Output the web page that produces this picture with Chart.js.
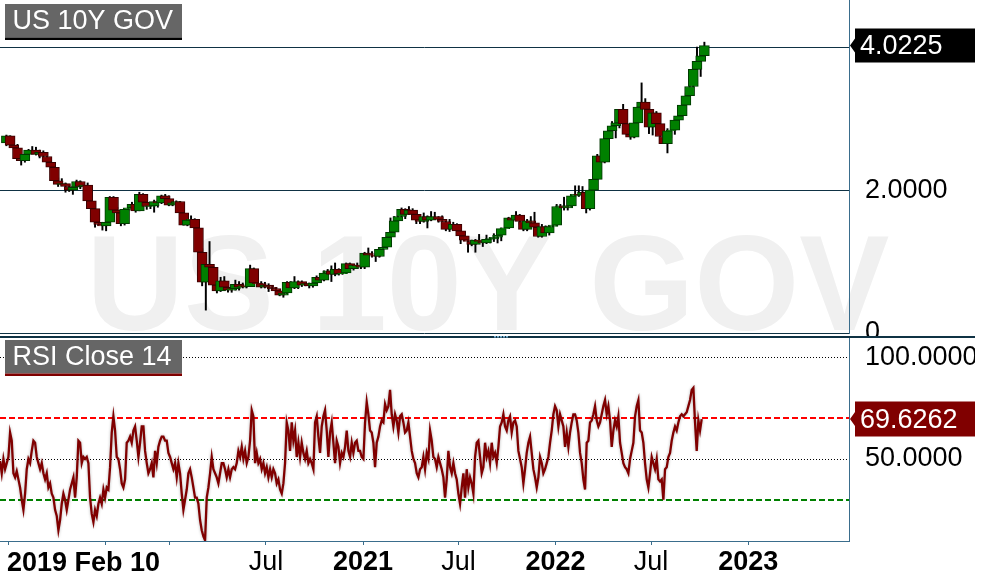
<!DOCTYPE html>
<html>
<head>
<meta charset="utf-8">
<script src="https://cdn.jsdelivr.net/npm/chart.js@4.4.0/dist/chart.umd.min.js"></script>
<style>
  body { margin: 0; background: #fff; width: 995px; height: 584px; overflow: hidden; position: relative; }
  #top { position: absolute; left: 0; top: 0; }
  #bot { position: absolute; left: 0; top: 336px; }
</style>
</head>
<body>
<canvas id="top" width="975" height="336"></canvas>
<canvas id="bot" width="975" height="248"></canvas>
<script>
const title = "US 10Y GOV";
const rsiTitle = "RSI Close 14";
const startLabel = "2019 Feb 10";

// weekly candles, first week starts Monday 2019-02-25
const candleStart = Date.UTC(2019, 1, 25);

const opens = [
  2.66,2.76,2.63,2.59,2.44,2.41,2.50,2.56,2.56,2.50,
  2.53,2.47,2.39,2.32,2.13,2.08,2.09,2.05,2.00,2.04,
  2.12,2.05,2.07,1.85,1.74,1.55,1.52,1.50,1.55,1.90,
  1.72,1.68,1.53,1.73,1.75,1.80,1.71,1.94,1.83,1.77,
  1.78,1.84,1.82,1.92,
  1.88,1.79,1.82,1.84,1.68,1.51,1.58,1.59,1.47,1.13,
  0.71,0.96,0.92,0.67,0.59,0.73,0.64,0.60,0.62,0.68,
  0.64,0.66,0.65,0.90,0.70,0.69,0.64,0.67,0.64,0.62,
  0.59,0.53,0.56,0.71,0.63,0.72,0.72,0.67,0.69,0.66,
  0.70,0.78,0.74,0.84,0.87,0.82,0.89,0.83,0.84,0.97,
  0.90,0.95,
  0.94,0.92,1.12,1.09,1.09,1.07,1.17,1.20,1.34,1.41,
  1.57,1.63,1.73,1.66,1.72,1.66,1.58,1.56,1.63,1.58,
  1.63,1.63,1.59,1.56,1.45,1.45,1.52,1.43,1.36,1.30,
  1.28,1.24,1.30,1.28,1.26,1.31,1.32,1.34,1.37,1.46,
  1.47,1.61,1.58,1.65,1.56,1.45,1.57,1.54,1.48,1.35,
  1.49,1.40,1.49,
  1.51,1.77,1.78,1.75,1.78,1.92,1.94,1.93,1.97,1.74,
  2.00,2.15,2.48,2.39,2.72,2.83,2.90,2.94,3.13,2.93,
  2.78,2.74,2.94,3.16,3.23,3.13,2.88,3.08,2.93,2.75,
  2.65,2.83,2.84,2.98,3.04,3.19,3.32,3.45,3.69,3.80,
  3.88
];
const highs = [
  2.77,2.76,2.66,2.64,2.46,2.52,2.57,2.61,2.60,2.56,
  2.55,2.48,2.43,2.34,2.17,2.16,2.10,2.07,2.05,2.14,
  2.13,2.09,2.10,1.87,1.75,1.63,1.55,1.59,1.91,1.91,
  1.76,1.69,1.74,1.79,1.83,1.85,1.97,1.95,1.84,1.79,
  1.86,1.86,1.93,1.94,
  1.92,1.87,1.85,1.84,1.68,1.67,1.64,1.60,1.47,1.18,
  0.99,1.28,0.93,0.74,0.78,0.79,0.66,0.67,0.74,0.72,
  0.70,0.72,0.95,0.91,0.77,0.72,0.71,0.69,0.66,0.64,
  0.61,0.58,0.72,0.72,0.79,0.73,0.73,0.71,0.70,0.71,
  0.80,0.79,0.87,0.89,0.94,0.98,0.90,0.89,0.98,0.98,
  0.96,0.98,
  0.95,1.13,1.19,1.14,1.11,1.19,1.20,1.36,1.61,1.63,
  1.64,1.75,1.74,1.77,1.74,1.70,1.63,1.68,1.64,1.70,
  1.69,1.63,1.64,1.57,1.59,1.55,1.53,1.44,1.42,1.31,
  1.30,1.31,1.38,1.30,1.37,1.33,1.39,1.38,1.47,1.56,
  1.62,1.63,1.70,1.66,1.62,1.59,1.63,1.69,1.51,1.52,
  1.50,1.50,1.56,
  1.80,1.80,1.90,1.87,1.93,2.06,2.06,2.05,1.99,2.02,
  2.24,2.50,2.56,2.73,2.85,2.96,2.98,3.13,3.20,3.07,
  2.86,2.96,3.17,3.50,3.28,3.19,3.10,3.10,3.07,2.86,
  2.86,2.88,3.00,3.10,3.26,3.36,3.49,3.71,4.00,3.90,
  4.07
];
const lows = [
  2.62,2.61,2.57,2.43,2.35,2.39,2.46,2.53,2.49,2.45,
  2.40,2.36,2.30,2.12,2.05,2.06,1.97,1.98,1.94,2.02,
  2.02,2.03,1.84,1.65,1.48,1.51,1.44,1.43,1.55,1.70,
  1.64,1.50,1.51,1.71,1.74,1.69,1.71,1.81,1.73,1.74,
  1.69,1.76,1.81,1.87,
  1.78,1.78,1.79,1.67,1.51,1.50,1.56,1.46,1.11,0.66,
  0.32,0.85,0.67,0.56,0.58,0.60,0.57,0.57,0.60,0.60,
  0.63,0.63,0.65,0.66,0.68,0.63,0.63,0.58,0.60,0.57,
  0.52,0.50,0.55,0.62,0.62,0.62,0.65,0.66,0.63,0.64,
  0.69,0.71,0.73,0.76,0.72,0.80,0.81,0.82,0.83,0.88,
  0.88,0.91,
  0.90,0.90,1.06,1.06,1.00,1.06,1.12,1.20,1.33,1.39,
  1.51,1.60,1.60,1.66,1.62,1.53,1.53,1.55,1.47,1.57,
  1.60,1.55,1.56,1.43,1.42,1.44,1.42,1.25,1.29,1.13,
  1.22,1.13,1.27,1.21,1.25,1.26,1.28,1.26,1.29,1.45,
  1.47,1.50,1.57,1.52,1.43,1.43,1.53,1.47,1.34,1.34,
  1.38,1.37,1.47,
  1.50,1.70,1.72,1.72,1.76,1.91,1.91,1.85,1.68,1.72,
  1.99,2.14,2.35,2.38,2.65,2.80,2.73,2.87,2.85,2.78,
  2.71,2.73,2.91,3.12,3.05,2.79,2.77,2.86,2.75,2.65,
  2.52,2.73,2.78,2.98,3.04,3.18,3.26,3.44,3.60,3.59,
  3.86
];
const closes = [
  2.76,2.63,2.59,2.44,2.41,2.50,2.56,2.56,2.50,2.53,
  2.47,2.39,2.32,2.13,2.08,2.09,2.05,2.00,2.04,2.12,
  2.05,2.07,1.85,1.74,1.55,1.52,1.50,1.55,1.90,1.72,
  1.68,1.53,1.73,1.75,1.80,1.71,1.94,1.83,1.77,1.78,
  1.84,1.82,1.92,1.88,
  1.79,1.82,1.84,1.68,1.51,1.58,1.59,1.47,1.13,0.71,
  0.96,0.92,0.67,0.59,0.73,0.64,0.60,0.62,0.68,0.64,
  0.66,0.65,0.90,0.70,0.69,0.64,0.67,0.64,0.62,0.59,
  0.53,0.56,0.71,0.63,0.72,0.72,0.67,0.69,0.66,0.70,
  0.78,0.74,0.84,0.87,0.82,0.89,0.83,0.84,0.97,0.90,
  0.95,0.94,
  0.92,1.12,1.09,1.09,1.07,1.17,1.20,1.34,1.41,1.57,
  1.63,1.73,1.66,1.72,1.66,1.58,1.56,1.63,1.58,1.63,
  1.63,1.59,1.56,1.45,1.45,1.52,1.43,1.36,1.30,1.28,
  1.24,1.30,1.28,1.26,1.31,1.32,1.34,1.37,1.46,1.47,
  1.61,1.58,1.65,1.56,1.45,1.57,1.54,1.48,1.35,1.49,
  1.40,1.49,1.51,
  1.77,1.78,1.75,1.78,1.92,1.94,1.93,1.97,1.74,2.00,
  2.15,2.48,2.39,2.72,2.83,2.90,2.94,3.13,2.93,2.78,
  2.74,2.94,3.16,3.23,3.13,2.88,3.08,2.93,2.75,2.65,
  2.83,2.84,2.98,3.04,3.19,3.32,3.45,3.69,3.80,3.88,
  4.0225
];

// RSI(14) sampled every ~3.16 days from 2019-02-13
const rsiStart = Date.UTC(2019, 1, 13);
const rsiStepDays = 3.159;
const rsiValues = [
  49,43,50,45,48,51,63,59,43,41, 44,40,36,30,25,33,45,50,48,54,
  59,58,51,48,45,48,43,40,43,36, 38,33,31,25,22,15,20,28,33,30,
  25,30,35,38,41,31,41,59,58,48, 51,50,51,48,31,23,19,25,22,28,
  31,28,35,31,36,35,46,63,71,64, 51,50,45,38,36,40,58,59,61,58,
  64,66,59,51,58,66,66,54,48,43, 45,48,41,54,48,56,59,61,61,59,
  59,53,51,48,45,48,41,48,43,33, 25,30,35,43,45,41,36,31,31,28,
  20,15,12,10,31,36,43,51,45,43, 41,38,43,48,48,45,41,45,41,45,
  46,45,48,54,51,56,50,54,48,51, 59,74,71,48,53,48,50,45,48,43,
  46,41,45,41,45,43,38,40,35,33, 38,48,68,64,54,68,59,64,51,58,
  51,58,53,50,54,48,50,48,45,68, 71,61,53,66,71,74,64,51,63,
  68,58,48,59,56,48,53,51,56,64, 54,51,58,53,58,59,54,54,51,50,
  68,78,72,64,63,58,46,58,61,66, 69,68,77,74,76,84,72,66,72,69,
  63,71,72,68,63,64,68,61,54,50, 48,43,41,45,46,51,45,53,50,64,
  59,51,50,46,51,48,45,41,31,40, 54,46,43,48,43,40,33,28,36,43,
  31,45,36,41,38,33,51,58,59,51, 43,46,58,51,54,48,58,51,53,48,
  56,66,68,72,66,64,69,71,63,68, 69,66,54,50,46,38,45,53,58,61,
  53,45,41,36,41,51,48,43,45,48, 51,58,64,72,76,74,66,72,69,66,
  56,63,56,63,68,72,72,69,63,53, 48,40,35,58,59,68,69,72,76,69,
  66,68,72,76,79,72,76,69,56,64, 69,66,71,58,53,48,46,45,43,50,
  54,58,71,76,79,64,63,58,48,40, 36,43,51,48,45,50,40,39,
  40,30,45,46,51,53,59,63,66,64, 68,71,72,71,72,73,76,79,84,85,
  68,54,69,64,69.6262
];

const tickDates = ["2019-03-01","2019-09-01","2020-01-01","2020-07-01","2021-01-01","2021-07-01","2022-01-01","2022-07-01","2023-01-01"];
const tickLabels = ["", "", "", "Jul", "2021", "Jul", "2022", "Jul", "2023"];
const priceTicks = [0, 2, 4];
const priceTickLabels = ["0", "2.0000", ""];
const rsiTicks = [30, 50, 70, 100];
const rsiTickLabels = ["", "50.0000", "", "100.0000"];

const FONT = '"Liberation Sans", Arial, sans-serif';
const DAY = 86400000;
const xMin = 2019.118, xMax = 2023.524;
const navy = "#0f3244", steel = "#3a6d8c";

function toYear(ms) {
  return 2020 + (ms - Date.UTC(2020, 0, 1)) / (365.25 * DAY);
}

var wickData = [], bodyData = [];
closes.forEach((c, i) => {
  var t = toYear(candleStart + i * 7 * DAY);
  wickData.push({x: t, y: [lows[i], highs[i]]});
  bodyData.push({x: t, y: [opens[i], c]});
});

var rsiData = rsiValues.map((v, i) => ({x: toYear(rsiStart + i * rsiStepDays * DAY), y: v}));

// keep the plot area flush with the canvas edges
function noPad(s) {
  s.paddingTop = 0; s.paddingBottom = 0; s.paddingLeft = 0; s.paddingRight = 0;
}

function drawBadge(ctx, text, lineColor) {
  ctx.save();
  ctx.fillStyle = "#666666";
  ctx.fillRect(5, 4, 177, 33.5);
  ctx.fillStyle = lineColor;
  ctx.fillRect(5, 37.5, 177, 2.5);
  ctx.fillStyle = "#ffffff";
  ctx.font = "27px " + FONT;
  ctx.textBaseline = "alphabetic";
  ctx.fillText(text, 12.5, 28.5);
  ctx.restore();
}

function drawTag(ctx, x0, y, h, color, text) {
  ctx.save();
  ctx.fillStyle = color;
  ctx.beginPath();
  ctx.moveTo(x0 + 1, y);
  ctx.lineTo(x0 + 6, y - 7);
  ctx.lineTo(x0 + 6, y - h / 2);
  ctx.lineTo(975, y - h / 2);
  ctx.lineTo(975, y + h / 2);
  ctx.lineTo(x0 + 6, y + h / 2);
  ctx.lineTo(x0 + 6, y + 7);
  ctx.closePath();
  ctx.fill();
  ctx.fillStyle = "#ffffff";
  ctx.font = "27px " + FONT;
  ctx.textBaseline = "middle";
  ctx.fillText(text, x0 + 11, y + 1);
  ctx.restore();
}

const topDeco = {
  id: "topDeco",
  beforeDraw(chart) {
    var ctx = chart.ctx;
    ctx.save();
    ctx.fillStyle = "#f0f0f0";
    ctx.font = "bold 135px " + FONT;
    ctx.textAlign = "center";
    ctx.fillText(title, 488, 330);
    ctx.restore();
  },
  afterDraw(chart) {
    var ctx = chart.ctx;
    drawBadge(ctx, title, "#000000");
    var last = closes[closes.length - 1];
    drawTag(ctx, chart.chartArea.right, chart.scales.y.getPixelForValue(last), 34, "#000000", last.toFixed(4));
  }
};

const botDeco = {
  id: "botDeco",
  beforeDatasetDraw(chart) {
    chart.ctx.save();
    chart.ctx.shadowColor = "rgba(0,0,0,0.3)";
    chart.ctx.shadowBlur = 3;
  },
  afterDatasetDraw(chart) {
    chart.ctx.restore();
  },
  afterDraw(chart) {
    var ctx = chart.ctx;
    ctx.save();
    ctx.fillStyle = navy;
    ctx.fillRect(0, 0, 975, 2);
    ctx.fillStyle = "#7ab4d8";
    for (var k = 0; k < 5; k++) ctx.fillRect(494 + k * 3, 0, 2, 1.5);
    ctx.fillStyle = "#000000";
    ctx.font = "bold 27px " + FONT;
    ctx.textBaseline = "alphabetic";
    ctx.fillText(startLabel, 7, 235);
    ctx.restore();
    drawBadge(ctx, rsiTitle, "#800000");
    var last = rsiValues[rsiValues.length - 1];
    drawTag(ctx, chart.chartArea.right, chart.scales.y.getPixelForValue(last), 35, "#800000", last.toFixed(4));
  }
};

new Chart("top", {
  type: "bar",
  data: {
    datasets: [{
      data: wickData,
      backgroundColor: "#000000",
      barThickness: 1.3,
      grouped: false,
      order: 2
    }, {
      data: bodyData,
      backgroundColor: ctx => closes[ctx.dataIndex] >= opens[ctx.dataIndex] ? "#008000" : "#800000",
      borderColor: ctx => closes[ctx.dataIndex] >= opens[ctx.dataIndex] ? "#003800" : "#380000",
      borderWidth: 1,
      borderSkipped: false,
      barThickness: 10,
      grouped: false,
      order: 1
    }]
  },
  options: {
    responsive: false,
    animation: false,
    layout: {autoPadding: false, padding: {top: 0, left: 0, right: 0, bottom: 3}},
    plugins: {legend: {display: false}, tooltip: {enabled: false}},
    scales: {
      x: {type: "linear", min: xMin, max: xMax, offset: false, display: false},
      y: {
        position: "right", min: 0, max: 4.66,
        afterFit: s => { s.width = 126; noPad(s); },
        afterBuildTicks: s => { s.ticks = priceTicks.map(v => ({value: v})); },
        ticks: {padding: 16, color: "#000", font: {family: FONT, size: 27}, callback: (v, i) => priceTickLabels[i]},
        grid: {color: navy, lineWidth: 1, drawTicks: false},
        border: {color: steel, width: 1}
      }
    }
  },
  plugins: [topDeco]
});

new Chart("bot", {
  type: "line",
  data: {
    datasets: [{
      data: rsiData,
      borderColor: "#800000",
      borderWidth: 2.3,
      pointRadius: 0,
      tension: 0
    }]
  },
  options: {
    responsive: false,
    animation: false,
    layout: {autoPadding: false, padding: {top: 2, left: 0, right: 0, bottom: 0}},
    plugins: {legend: {display: false}, tooltip: {enabled: false}},
    scales: {
      x: {
        type: "linear", min: xMin, max: xMax, offset: false,
        afterFit: s => { s.height = 43; noPad(s); },
        afterBuildTicks: s => { s.ticks = tickDates.map(d => ({value: toYear(Date.parse(d))})); },
        ticks: {
          autoSkip: false, maxRotation: 0, padding: 1, color: "#000",
          font: c => ({family: FONT, size: 27, weight: tickLabels[c.index] === "Jul" ? "normal" : "bold"}),
          callback: (v, i) => tickLabels[i]
        },
        grid: {drawOnChartArea: false, drawTicks: true, tickLength: 4, tickColor: steel},
        border: {color: steel, width: 1}
      },
      y: {
        position: "right", min: 9.7, max: 109.5,
        afterFit: s => { s.width = 126; noPad(s); },
        afterBuildTicks: s => { s.ticks = rsiTicks.map(v => ({value: v})); },
        ticks: {padding: 16, color: "#000", font: {family: FONT, size: 27}, callback: (v, i) => rsiTickLabels[i]},
        grid: {
          drawTicks: false,
          color: c => !c.tick ? "#000" : c.tick.value === 70 ? "#ff0000" : c.tick.value === 30 ? "#008000" : "#000000",
          lineWidth: c => c.tick && (c.tick.value === 70 || c.tick.value === 30) ? 2 : 1
        },
        border: {
          color: steel, width: 1,
          dash: c => !c.tick ? [] : (c.tick.value === 70 || c.tick.value === 30) ? [6, 3] : [1, 2]
        }
      }
    }
  },
  plugins: [botDeco]
});
</script>
</body>
</html>
